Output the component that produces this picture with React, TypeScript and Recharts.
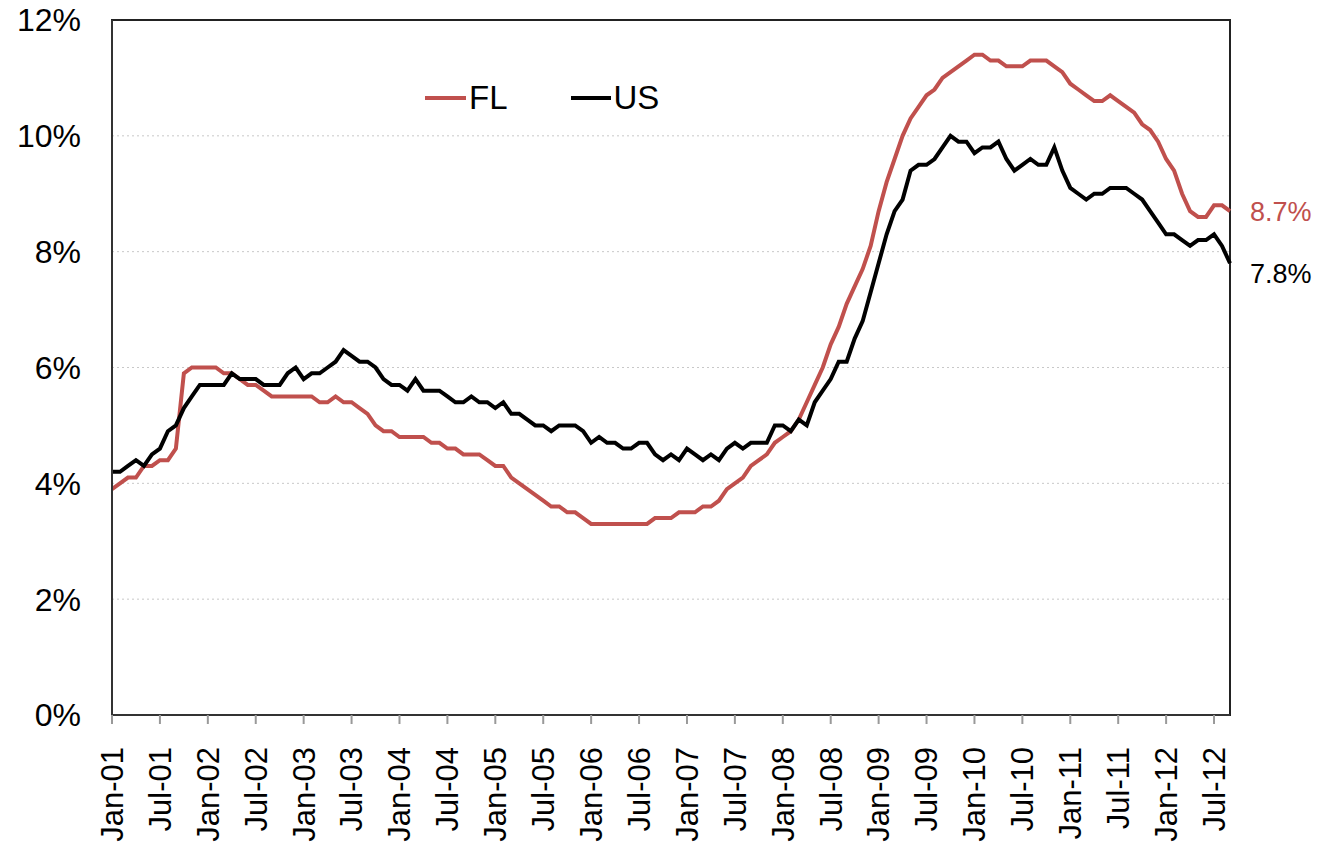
import { LineChart, Line, XAxis, YAxis, CartesianGrid, ReferenceArea, LabelList } from 'recharts'

const MONTHS = ['Jan', 'Feb', 'Mar', 'Apr', 'May', 'Jun', 'Jul', 'Aug', 'Sep', 'Oct', 'Nov', 'Dec']
const YEARS = ['01', '02', '03', '04', '05', '06', '07', '08', '09', '10', '11', '12']

// Florida unemployment rate, %, Jan-01 .. Sep-12
const FL = [
  3.9, 4.0, 4.1, 4.1, 4.3, 4.3, 4.4, 4.4, 4.6, 5.9, 6.0, 6.0,
  6.0, 6.0, 5.9, 5.9, 5.8, 5.7, 5.7, 5.6, 5.5, 5.5, 5.5, 5.5,
  5.5, 5.5, 5.4, 5.4, 5.5, 5.4, 5.4, 5.3, 5.2, 5.0, 4.9, 4.9,
  4.8, 4.8, 4.8, 4.8, 4.7, 4.7, 4.6, 4.6, 4.5, 4.5, 4.5, 4.4,
  4.3, 4.3, 4.1, 4.0, 3.9, 3.8, 3.7, 3.6, 3.6, 3.5, 3.5, 3.4,
  3.3, 3.3, 3.3, 3.3, 3.3, 3.3, 3.3, 3.3, 3.4, 3.4, 3.4, 3.5,
  3.5, 3.5, 3.6, 3.6, 3.7, 3.9, 4.0, 4.1, 4.3, 4.4, 4.5, 4.7,
  4.8, 4.9, 5.1, 5.4, 5.7, 6.0, 6.4, 6.7, 7.1, 7.4, 7.7, 8.1,
  8.7, 9.2, 9.6, 10.0, 10.3, 10.5, 10.7, 10.8, 11.0, 11.1, 11.2, 11.3,
  11.4, 11.4, 11.3, 11.3, 11.2, 11.2, 11.2, 11.3, 11.3, 11.3, 11.2, 11.1,
  10.9, 10.8, 10.7, 10.6, 10.6, 10.7, 10.6, 10.5, 10.4, 10.2, 10.1, 9.9,
  9.6, 9.4, 9.0, 8.7, 8.6, 8.6, 8.8, 8.8, 8.7,
]

// US unemployment rate, %, same months
const US = [
  4.2, 4.2, 4.3, 4.4, 4.3, 4.5, 4.6, 4.9, 5.0, 5.3, 5.5, 5.7,
  5.7, 5.7, 5.7, 5.9, 5.8, 5.8, 5.8, 5.7, 5.7, 5.7, 5.9, 6.0,
  5.8, 5.9, 5.9, 6.0, 6.1, 6.3, 6.2, 6.1, 6.1, 6.0, 5.8, 5.7,
  5.7, 5.6, 5.8, 5.6, 5.6, 5.6, 5.5, 5.4, 5.4, 5.5, 5.4, 5.4,
  5.3, 5.4, 5.2, 5.2, 5.1, 5.0, 5.0, 4.9, 5.0, 5.0, 5.0, 4.9,
  4.7, 4.8, 4.7, 4.7, 4.6, 4.6, 4.7, 4.7, 4.5, 4.4, 4.5, 4.4,
  4.6, 4.5, 4.4, 4.5, 4.4, 4.6, 4.7, 4.6, 4.7, 4.7, 4.7, 5.0,
  5.0, 4.9, 5.1, 5.0, 5.4, 5.6, 5.8, 6.1, 6.1, 6.5, 6.8, 7.3,
  7.8, 8.3, 8.7, 8.9, 9.4, 9.5, 9.5, 9.6, 9.8, 10.0, 9.9, 9.9,
  9.7, 9.8, 9.8, 9.9, 9.6, 9.4, 9.5, 9.6, 9.5, 9.5, 9.8, 9.4,
  9.1, 9.0, 8.9, 9.0, 9.0, 9.1, 9.1, 9.1, 9.0, 8.9, 8.7, 8.5,
  8.3, 8.3, 8.2, 8.1, 8.2, 8.2, 8.3, 8.1, 7.8,
]

const Y_TICKS = [0, 2, 4, 6, 8, 10, 12]

const LABELS = YEARS.flatMap((y) => MONTHS.map((m) => `${m}-${y}`)).slice(0, FL.length)
const data = LABELS.map((label, i) => ({ label, FL: FL[i], US: US[i] }))

const FONT = '"Liberation Sans", Arial, sans-serif'
const RED = '#C0504D'
const LAST = data.length - 1

// eslint-disable-next-line @typescript-eslint/no-explicit-any
const XTick = ({ x, y, payload }: any) => (
  <text
    x={x}
    y={y + 21}
    transform={`rotate(-90, ${x}, ${y + 21})`}
    textAnchor="end"
    dy="0.35em"
    fontSize={31}
    fontFamily={FONT}
    fill="#000"
  >
    {payload.value}
  </text>
)

// eslint-disable-next-line @typescript-eslint/no-explicit-any
const endLabel = (color: string, dy: number) => (props: any) => {
  if (props.index !== LAST) return null
  return (
    <text x={props.x + 20} y={props.y + dy} dy="0.35em" fontSize={27} fontFamily={FONT} fill={color}>
      {`${Number(props.value).toFixed(1)}%`}
    </text>
  )
}

export default function App() {
  return (
    <div style={{ position: 'absolute', left: 0, top: 0, width: 1325, height: 850, background: '#fff', fontFamily: FONT }}>
      <LineChart width={1325} height={850} data={data} margin={{ top: 20, right: 95, bottom: 0, left: 0 }}>
        <CartesianGrid vertical={false} stroke="#c8c8c8" strokeDasharray="2 3" />
        <XAxis
          dataKey="label"
          interval={5}
          height={135}
          tick={<XTick />}
          tickSize={9}
          tickLine={{ stroke: '#999', strokeWidth: 2 }}
          axisLine={{ stroke: '#333', strokeWidth: 2 }}
        />
        <YAxis
          domain={[0, 12]}
          ticks={Y_TICKS}
          width={112}
          tickFormatter={(v: number) => `${v}%`}
          tick={{ fill: '#000', fontSize: 32, fontFamily: FONT }}
          tickLine={false}
          tickMargin={25}
          axisLine={{ stroke: '#333', strokeWidth: 2 }}
        />
        <ReferenceArea x1={LABELS[0]} x2={LABELS[LAST]} y1={0} y2={12} fill="none" stroke="#222" strokeWidth={2} />
        <Line type="linear" dataKey="FL" stroke={RED} strokeWidth={4} dot={false} isAnimationActive={false}>
          <LabelList dataKey="FL" content={endLabel(RED, 0)} />
        </Line>
        <Line type="linear" dataKey="US" stroke="#000" strokeWidth={4} dot={false} isAnimationActive={false}>
          <LabelList dataKey="US" content={endLabel('#000', 10)} />
        </Line>
      </LineChart>
      <div style={{ position: 'absolute', left: 425, top: 79, display: 'flex', alignItems: 'center', fontSize: 33 }}>
        <span style={{ display: 'inline-block', width: 41, height: 4, background: RED, marginRight: 3 }} />
        <span>FL</span>
        <span style={{ display: 'inline-block', width: 40, height: 4, background: '#000', marginLeft: 63, marginRight: 3 }} />
        <span>US</span>
      </div>
    </div>
  )
}
